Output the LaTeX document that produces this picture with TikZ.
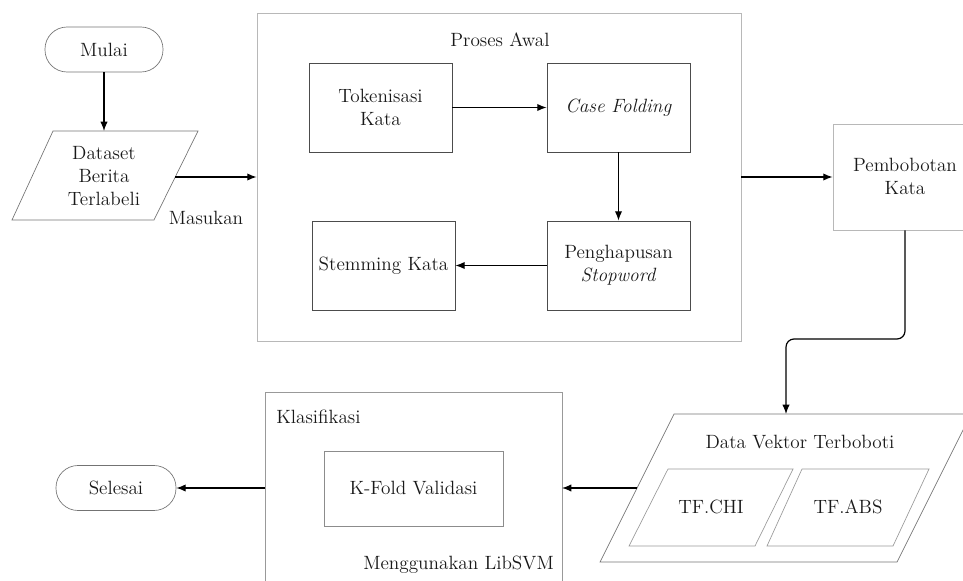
\documentclass[tikz,border=0pt]{standalone}
\usetikzlibrary{arrows.meta}
\begin{document}
\begin{tikzpicture}[x=0.75pt,y=-0.75pt,
  every node/.style={font=\fontsize{14.4}{17.3}\selectfont, text=black!90, align=center},
  term/.style={draw=black!55, line width=0.5pt, rounded corners=16.5pt, minimum width=#1*0.75pt, minimum height=33.75pt, inner sep=0pt},
  stepbox/.style={draw=black!70, line width=0.6pt, minimum width=107.25pt, minimum height=66.75pt, inner sep=2pt},
  group/.style={draw=black!28, line width=0.6pt, inner sep=0pt},
  para/.style={draw=black!55, line width=0.5pt},
  conn/.style={draw=black, line width=0.9pt, -{Latex[length=7pt,width=5.5pt]}},
  label/.style={inner sep=0pt}
]
\path[use as bounding box] (0,0) rectangle (963,581);
\clip (0,0) rectangle (963,581);

% start
\node[term=118] (mulai) at (104,49.5) {Mulai};

% dataset parallelogram
\draw[para] (53,131) -- (198,131) -- (154,220) -- (12,220) -- cycle;
\node[label] (dataset) at (104,176) {Dataset\\Berita\\Terlabeli};
\coordinate (datasetR) at (175,177);
\coordinate (datasetT) at (104,131);

\node[label] (masukan) at (206,218) {Masukan};

% Proses Awal group
\node[group, minimum width=363pt, minimum height=246pt] (proses) at (499,177) {};
\node[label] (prosesT) at (500,40) {Proses Awal};
\node[stepbox] (token) at (380.5,107.5) {Tokenisasi\\Kata};
\node[stepbox] (casef) at (618.5,107.5) {\textit{Case Folding}};
\node[stepbox] (hapus) at (618.5,265.5) {Penghapusan\\\textit{Stopword}};
\node[stepbox] (stem) at (383.5,265.5) {Stemming Kata};

% Pembobotan
\node[group, minimum width=108pt, minimum height=79.5pt] (bobot) at (905,177) {};
\node[label] (bobotT) at (905,176) {Pembobotan\\Kata};

% Data vektor parallelogram
\draw[para] (674,414) -- (971,414) -- (897,562) -- (600,562) -- cycle;
\node[label] (vektorT) at (800,442) {Data Vektor Terboboti};
\coordinate (vektorTop) at (786,414);
\coordinate (vektorL) at (637,488);
\draw[para, draw=black!40] (668,469) -- (793,469) -- (755,546) -- (629,546) -- cycle;
\node[label] (chi) at (711,507) {TF.CHI};
\draw[para, draw=black!40] (802,469) -- (929,469) -- (893,546) -- (767,546) -- cycle;
\node[label] (abs) at (848,507) {TF.ABS};

% Klasifikasi group
\draw[group, draw=black!40] (265,620) -- (265,392) -- (562,392) -- (562,620);
\coordinate (klasR) at (562,488);
\coordinate (klasL) at (265,488);
\node[label, anchor=west] (klasT) at (276,417) {Klasifikasi};
\node[draw=black!45, line width=0.5pt, minimum width=134.25pt, minimum height=56.25pt] (kfold) at (413.5,488.5) {K-Fold Validasi};
\node[label, anchor=east] (libsvm) at (554,565) {Menggunakan LibSVM};

% end
\node[term=120] (selesai) at (116,488) {Selesai};

% connectors
\draw[conn] (mulai.south) -- (datasetT);
\draw[conn] (datasetR) -- (datasetR -| proses.west);
\draw[conn] (token.east) -- (casef.west);
\draw[conn] (casef.south) -- (hapus.north);
\draw[conn] (hapus.west) -- (stem.east);
\draw[conn] (proses.east) -- (bobot.west);
\draw[conn, rounded corners=6pt] (bobot.south) -- (905,339) -- (786,339) -- (vektorTop);
\draw[conn] (vektorL) -- (klasR);
\draw[conn] (klasL) -- (selesai.east);
\end{tikzpicture}
\end{document}
